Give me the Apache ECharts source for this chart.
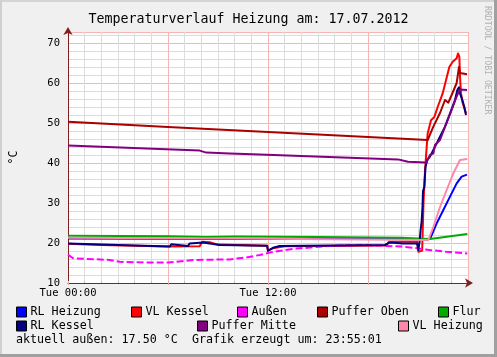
<!DOCTYPE html>
<html>
<head>
<meta charset="utf-8">
<script src="https://cdn.jsdelivr.net/npm/echarts@6/dist/echarts.min.js"></script>
<style>
html,body{margin:0;padding:0;background:#f0f0f0;}
#c{width:497px;height:357px;}
</style>
</head>
<body>
<div id="c"></div>
<script>
// x = hours since Tue 00:00, y = °C
const X_TICK_LABELS = {0: 'Tue 00:00', 12: 'Tue 12:00'};
const Y_TICK_LABELS = [10, 20, 30, 40, 50, 60, 70];

const RL_HEIZUNG = [[0,21.1],[6,21.05],[12,21.0],[18,21.0],[21.72,21.0],[21.8,21.2],[22.12,24.9],[22.52,28.25],[22.92,31.6],[23.32,34.9],[23.62,36.6],[23.94,37.1]];
const VL_KESSEL = [[0,19.8],[2,19.5],[6,19.1],[7.9,19.2],[8.05,20.3],[8.5,20.2],[9,19.6],[11.95,19.3],[12.0,18.0],[12.3,18.7],[13,19.2],[19.1,19.4],[19.25,20.3],[20.95,20.3],[21.03,17.8],[21.25,18.1],[21.33,30],[21.42,38],[21.48,41.6],[21.58,47.4],[21.78,50.7],[21.98,51.5],[22.18,54],[22.48,57.4],[22.68,60.7],[22.88,64],[23.08,65.3],[23.32,66.2],[23.4,67.4],[23.48,66.6],[23.52,61.6],[23.58,57.4],[23.68,55],[23.88,52.4]];
const AUSSEN = [[0,17.1],[0.3,16.2],[2.5,15.75],[3.1,15.3],[5.1,15.1],[6,15.1],[7.5,15.75],[9.7,15.9],[10.7,16.4],[11.5,17.0],[12.3,17.8],[13.7,18.6],[15.7,19.25],[17.7,19.5],[20.1,19.1],[20.7,18.8],[21.7,18.25],[22.7,17.8],[23.96,17.4]];
const PUFFER_OBEN = [[0,50.3],[6,49.0],[12,47.75],[18,46.5],[21.58,45.75],[21.92,49.1],[22.32,52.5],[22.62,55.75],[22.82,55.1],[23.02,57],[23.32,60],[23.46,64],[23.52,62.5],[23.58,62.2],[23.94,62.2]];
const FLUR = [[0,21.8],[6,21.7],[8.3,21.5],[10,21.6],[15,21.5],[20,21.3],[21.72,21.0],[23.96,22.25]];
const RL_KESSEL = [[0,19.9],[3,19.5],[6.1,19.1],[6.2,19.7],[7.2,19.25],[7.3,19.9],[8.1,20.1],[9.1,19.5],[11.95,19.3],[12.0,18.1],[12.3,18.8],[12.7,19.25],[19.0,19.5],[19.3,20.1],[20.1,19.9],[20.95,19.9],[21.02,18.2],[21.1,20.5],[21.15,23],[21.22,25.5],[21.27,29],[21.3,33],[21.38,34],[21.45,39],[21.55,40.75],[21.72,41.6],[21.92,43.25],[22.22,45.75],[22.62,49.1],[22.92,52.4],[23.22,55.75],[23.36,58.25],[23.46,58.9],[23.52,57.4],[23.66,55.75],[23.78,54],[23.88,52]];
const PUFFER_MITTE = [[0,44.4],[5.5,43.5],[7.9,43.1],[8.3,42.6],[9.7,42.4],[11.5,42.1],[19.8,40.9],[20.4,40.3],[21.5,40.1],[21.72,42],[21.92,42.4],[22.02,44.5],[22.32,45.75],[22.62,49],[23.02,53.25],[23.28,56.2],[23.44,57.8],[23.52,58.4],[23.94,58.25]];
const VL_HEIZUNG = [[0,21.3],[10,21.1],[21.62,20.75],[21.92,24],[22.32,29],[22.72,33.25],[23.12,37.4],[23.52,40.75],[23.62,41.1],[23.96,41]];

const SERIES = [
  {name:'RL Heizung', data:RL_HEIZUNG, color:'#0000ff'},
  {name:'VL Kessel', data:VL_KESSEL, color:'#ff0000'},
  {name:'Außen', data:AUSSEN, color:'#ff00ff', dash:[7,3]},
  {name:'Puffer Oben', data:PUFFER_OBEN, color:'#aa0000'},
  {name:'Flur', data:FLUR, color:'#00aa00'},
  {name:'RL Kessel', data:RL_KESSEL, color:'#000080'},
  {name:'Puffer Mitte', data:PUFFER_MITTE, color:'#800080'},
  {name:'VL Heizung', data:VL_HEIZUNG, color:'#ff88aa'}
];
const LEGEND_POS = [
  ['RL Heizung',16,306],['VL Kessel',131,306],['Außen',237,306],['Puffer Oben',317,306],['Flur',438,306],
  ['RL Kessel',16,320],['Puffer Mitte',197,320],['VL Heizung',398,320]
];

const MONO = 'DejaVu Sans Mono';
const chart = echarts.init(document.getElementById('c'), null, {renderer:'canvas'});
const axisCol = '#802020';
const option = {
  backgroundColor:'#f0f0f0',
  animation:false,
  title:{text:'Temperaturverlauf Heizung am: 17.07.2012', left:'center', top:8,
    textStyle:{fontFamily:MONO, fontSize:13.3, fontWeight:'normal', color:'#000'}},
  grid:{left:68, top:32, width:400, height:251, show:true, backgroundColor:'#ffffff', borderWidth:0,
    containLabel:false, outerBoundsMode:'none'},
  legend: LEGEND_POS.map(p => ({
    data:[p[0]], left:p[1], top:p[2], padding:0, itemWidth:10, itemHeight:10, itemGap:0,
    icon:'rect', selectedMode:false,
    itemStyle:{borderColor:'#000', borderWidth:1},
    textStyle:{fontFamily:MONO, fontSize:11.7, color:'#000', padding:[0,0,0,-1]}
  })),
  xAxis:[
    {type:'value', min:0, max:24, interval:1,
     axisLine:{show:true, onZero:false, symbol:['none','arrow'], symbolSize:[7,8], symbolOffset:[0,5], lineStyle:{color:axisCol, width:1}},
     axisTick:{show:true, length:2, inside:true, lineStyle:{color:'#c0c0c0'}},
     axisLabel:{formatter:v => X_TICK_LABELS[v] || '', fontFamily:MONO, fontSize:10.5, color:'#000', margin:5, showMaxLabel:false},
     splitLine:{show:true, lineStyle:{color:'#dcdcdc', width:1}}},
    {type:'value', min:0, max:24, interval:6, position:'bottom',
     axisLine:{show:false}, axisTick:{show:true, length:2, lineStyle:{color:'#f0a0a0'}}, axisLabel:{show:false},
     splitLine:{show:true, lineStyle:{color:'#f5b5b5', width:1}}}
  ],
  yAxis:[
    {type:'value', min:10, max:72.75, interval:2,
     name:'°C', nameLocation:'middle', nameGap:48, nameRotate:90,
     nameTextStyle:{fontFamily:MONO, fontSize:11.5, color:'#000'},
     axisLine:{show:true, onZero:false, symbol:['none','arrow'], symbolSize:[7,8], symbolOffset:[0,5], lineStyle:{color:axisCol, width:1}},
     axisTick:{show:false},
     axisLabel:{formatter:v => Y_TICK_LABELS.indexOf(v) >= 0 ? String(v) : '', fontFamily:MONO, fontSize:10.5, color:'#000', margin:8},
     splitLine:{show:true, lineStyle:{color:'#dcdcdc', width:1}}},
    {type:'value', min:10, max:72.75, interval:10, position:'left',
     axisLine:{show:false}, axisTick:{show:false}, axisLabel:{show:false},
     splitLine:{show:true, lineStyle:{color:'#f5b5b5', width:1}}}
  ],
  series: SERIES.map((s,i) => ({
    name:s.name, type:'line', data:s.data, xAxisIndex:0, yAxisIndex:0,
    showSymbol:false, symbol:'none', color:s.color, z:2+i,
    lineStyle:{color:s.color, width:2, type: s.dash || 'solid', cap:'butt', join:'round'},
    itemStyle:{color:s.color}
  })),
  graphic:[
    {type:'rect', shape:{x:0,y:0,width:497,height:2}, style:{fill:'#d4d4d4'}, silent:true},
    {type:'rect', shape:{x:0,y:0,width:2,height:357}, style:{fill:'#d0d0d0'}, silent:true},
    {type:'rect', shape:{x:494,y:0,width:3,height:357}, style:{fill:'#a0a0a0'}, silent:true},
    {type:'rect', shape:{x:0,y:354,width:497,height:3}, style:{fill:'#a0a0a0'}, silent:true},
    {type:'text', x:487, y:6, rotation:-Math.PI/2, silent:true,
     style:{text:'RRDTOOL / TOBI OETIKER', font:'8.2px "DejaVu Sans Mono"', fill:'#b0b0b0', textAlign:'left', textVerticalAlign:'middle'}},
    {type:'text', x:16, y:339.5, silent:true,
     style:{text:'aktuell außen: 17.50 °C  Grafik erzeugt um: 23:55:01', font:'11.7px "DejaVu Sans Mono"', fill:'#000', textAlign:'left', textVerticalAlign:'middle'}}
  ]
};
chart.setOption(option);
</script>
</body>
</html>
